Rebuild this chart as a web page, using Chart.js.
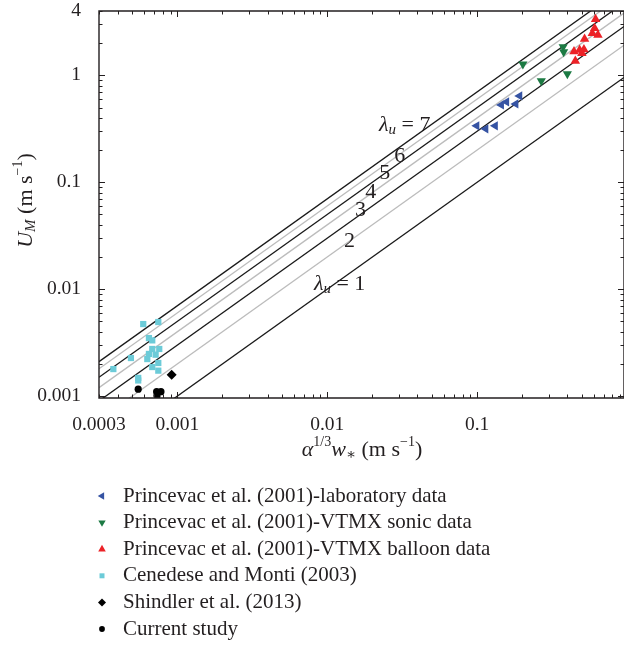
<!DOCTYPE html>
<html>
<head>
<meta charset="utf-8">
<script src="https://cdn.jsdelivr.net/npm/chart.js@4.4.1/dist/chart.umd.min.js"></script>
<style>
  html, body { margin: 0; padding: 0; background: #fff; }
  #wrap { width: 624px; height: 646px; position: relative; }
  canvas { display: block; }
</style>
</head>
<body>
<div id="wrap"><canvas id="uChart" width="624" height="646"></canvas></div>
<script>
// reference lines: U_M = lambda_u * alpha^(1/3) w_*
const lambdas = [1, 2, 3, 4, 5, 6, 7];
const lineX = [0.0003, 0.955];
const lamLabelX = [0.0121, 0.0141, 0.0167, 0.0195, 0.0242, 0.0305, 0.0329];
const lamLabelY = [0.0112, 0.0283, 0.0552, 0.0813, 0.122, 0.177, 0.344];

// Princevac et al. (2001)
const labX = [0.0993, 0.114, 0.132, 0.145, 0.157, 0.181, 0.192];
const labY = [0.337, 0.316, 0.337, 0.529, 0.565, 0.541, 0.642];
const sonicX = [0.202, 0.268, 0.375, 0.378, 0.400];
const sonicY = [1.27, 0.887, 1.85, 1.66, 1.03];
const balloonX = [0.617, 0.608, 0.587, 0.640, 0.521, 0.443, 0.483, 0.516, 0.500, 0.452];
const balloonY = [3.35, 2.76, 2.48, 2.39, 2.19, 1.67, 1.73, 1.75, 1.61, 1.36];

// Cenedese and Monti (2003)
const cenX = [0.000592, 0.000746, 0.000646, 0.000680, 0.000680, 0.000757, 0.000646, 0.000716,
              0.000490, 0.000630, 0.000746, 0.000680, 0.000746, 0.000374, 0.000548, 0.000548];
const cenY = [0.00472, 0.00493, 0.00349, 0.00332, 0.00276, 0.00276, 0.00248, 0.00244,
              0.00227, 0.00222, 0.00204, 0.00187, 0.00173, 0.00179, 0.00148, 0.00140];

// Shindler et al. (2013) and current study
const shindlerX = [0.000916];
const shindlerY = [0.00158];
const currentX = [0.000548, 0.000727, 0.000777, 0.000731];
const currentY = [0.00116, 0.00110, 0.00110, 0.00101];

const xTicks = [0.0003, 0.001, 0.01, 0.1];
const yTicks = [0.001, 0.01, 0.1, 1, 4];

const seriesNames = [
  'Princevac et al. (2001)-laboratory data',
  'Princevac et al. (2001)-VTMX sonic data',
  'Princevac et al. (2001)-VTMX balloon data',
  'Cenedese and Monti (2003)',
  'Shindler et al. (2013)',
  'Current study'
];

const SERIF = "'Liberation Serif', 'DejaVu Serif', serif";
const INK = '#231f20';

function pts(xs, ys) {
  return xs.map((x, i) => ({ x: x, y: ys[i] }));
}

const markerSets = [
  { xs: labX, ys: labY, color: '#3553a3', style: 'triangle', rot: 270, r: 5.3 },
  { xs: sonicX, ys: sonicY, color: '#1c7a43', style: 'triangle', rot: 180, r: 5.3 },
  { xs: balloonX, ys: balloonY, color: '#ec2227', style: 'triangle', rot: 0, r: 5.5 },
  { xs: cenX, ys: cenY, color: '#6ccbd8', style: 'rect', rot: 0, r: 4.4 },
  { xs: shindlerX, ys: shindlerY, color: '#000000', style: 'rectRot', rot: 0, r: 5 },
  { xs: currentX, ys: currentY, color: '#000000', style: 'circle', rot: 0, r: 3.6 }
];

const datasets = markerSets.map((m, i) => ({
  label: seriesNames[i],
  data: pts(m.xs, m.ys),
  showLine: false,
  pointStyle: m.style,
  pointRotation: m.rot,
  pointRadius: m.r,
  pointBackgroundColor: m.color,
  pointBorderWidth: 0,
  pointBorderColor: m.color
}));

lambdas.forEach(l => {
  datasets.push({
    label: 'lambda ' + l,
    data: lineX.map(x => ({ x: x, y: l * x })),
    showLine: true,
    pointRadius: 0,
    borderColor: l % 2 ? '#1a1a1a' : '#bcbcbc',
    borderWidth: 1.3,
    fill: false
  });
});

// text with sub/superscripts, drawn piece by piece
function drawRich(ctx, parts, x, y, size) {
  let total = 0;
  parts.forEach(p => {
    ctx.font = (p.it ? 'italic ' : '') + (p.s || size) + 'px ' + SERIF;
    p.w = ctx.measureText(p.t).width;
    total += p.w;
  });
  let cx = x - total / 2;
  ctx.textAlign = 'left';
  ctx.textBaseline = 'middle';
  parts.forEach(p => {
    ctx.font = (p.it ? 'italic ' : '') + (p.s || size) + 'px ' + SERIF;
    ctx.fillText(p.t, cx, y + (p.dy || 0));
    cx += p.w;
  });
}

// keep chart.js from adding room for the tick labels at the ends
function noEdgePadding(s) {
  s.paddingTop = 0;
  s.paddingBottom = 0;
  s.paddingLeft = 0;
  s.paddingRight = 0;
}

const frameTicks = {
  id: 'frameTicks',
  afterDatasetsDraw(chart) {
    const { ctx, chartArea: a, scales: { x, y } } = chart;
    ctx.save();
    ctx.strokeStyle = INK;
    ctx.lineWidth = 1.4;
    ctx.beginPath();
    ctx.rect(a.left, a.top, a.right - a.left, a.bottom - a.top);
    ctx.stroke();
    ctx.lineWidth = 1;
    ctx.beginPath();
    for (let d = -4; d <= 0; d++) {
      for (let m = 1; m <= 9; m++) {
        const v = m * Math.pow(10, d);
        const len = m === 1 ? 6 : 3.5;
        if (v >= x.min && v <= x.max) {
          const px = Math.round(x.getPixelForValue(v)) + 0.5;
          ctx.moveTo(px, a.bottom); ctx.lineTo(px, a.bottom - len);
          ctx.moveTo(px, a.top); ctx.lineTo(px, a.top + len);
        }
        if (v >= y.min && v <= y.max) {
          const py = Math.round(y.getPixelForValue(v)) + 0.5;
          ctx.moveTo(a.left, py); ctx.lineTo(a.left + len, py);
          ctx.moveTo(a.right, py); ctx.lineTo(a.right - len, py);
        }
      }
    }
    ctx.stroke();
    ctx.restore();
  },
  afterDraw(chart) {
    const { ctx, chartArea: a, scales: { x, y } } = chart;
    ctx.save();
    ctx.fillStyle = INK;

    // lambda labels
    lambdas.forEach((l, i) => {
      const px = x.getPixelForValue(lamLabelX[i]);
      const py = y.getPixelForValue(lamLabelY[i]);
      if (i === 0 || i === lambdas.length - 1) {
        drawRich(ctx, [{ t: 'λ', it: true }, { t: 'u', it: true, s: 15, dy: 5 }, { t: ' = ' + l }], px, py, 22);
      } else {
        drawRich(ctx, [{ t: String(l) }], px, py, 22);
      }
    });

    // axis titles
    drawRich(ctx, [
      { t: 'α', it: true }, { t: '1/3', s: 14, dy: -8 }, { t: 'w', it: true },
      { t: '∗', s: 15, dy: 5 }, { t: ' (m s' }, { t: '−1', s: 14, dy: -8 }, { t: ')' }
    ], 362, 450, 22);

    ctx.save();
    ctx.translate(26, (a.top + a.bottom) / 2 - 4);
    ctx.rotate(-Math.PI / 2);
    drawRich(ctx, [
      { t: 'U', it: true }, { t: 'M', it: true, s: 15, dy: 5 },
      { t: ' (m s' }, { t: '−1', s: 14, dy: -8 }, { t: ')' }
    ], 0, 0, 22);
    ctx.restore();

    // legend, one row per marker series
    markerSets.forEach((m, i) => {
      const rowY = 496 + i * 26.6;
      ctx.fillStyle = m.color;
      Chart.helpers.drawPoint(ctx, {
        pointStyle: m.style, rotation: m.rot, radius: m.r * 0.8, borderWidth: 0
      }, 102, rowY);
      ctx.fillStyle = INK;
      ctx.font = '21px ' + SERIF;
      ctx.textAlign = 'left';
      ctx.textBaseline = 'middle';
      ctx.fillText(seriesNames[i], 123, rowY);
    });
    ctx.restore();
  }
};

new Chart(document.getElementById('uChart').getContext('2d'), {
  type: 'scatter',
  data: { datasets: datasets },
  options: {
    responsive: false,
    animation: false,
    events: [],
    layout: { autoPadding: false, padding: { top: 11, right: 0, left: 0, bottom: 0 } },
    scales: {
      x: {
        type: 'logarithmic',
        min: lineX[0],
        max: lineX[1],
        afterBuildTicks: s => { s.ticks = xTicks.map(v => ({ value: v })); },
        afterFit: s => { s.height = 248; noEdgePadding(s); },
        grid: { display: false },
        border: { display: false },
        ticks: {
          color: INK,
          font: { family: SERIF, size: 19.5 },
          padding: 7,
          autoSkip: false,
          maxRotation: 0,
          callback: v => String(v)
        }
      },
      y: {
        type: 'logarithmic',
        min: 0.00096,
        max: 4,
        afterBuildTicks: s => { s.ticks = yTicks.map(v => ({ value: v })); },
        afterFit: s => { s.width = 99; noEdgePadding(s); },
        grid: { display: false },
        border: { display: false },
        ticks: {
          color: INK,
          font: { family: SERIF, size: 19.5 },
          padding: 10,
          autoSkip: false,
          callback: v => String(v)
        }
      }
    },
    plugins: {
      legend: { display: false },
      tooltip: { enabled: false }
    }
  },
  plugins: [frameTicks]
});
</script>
</body>
</html>
